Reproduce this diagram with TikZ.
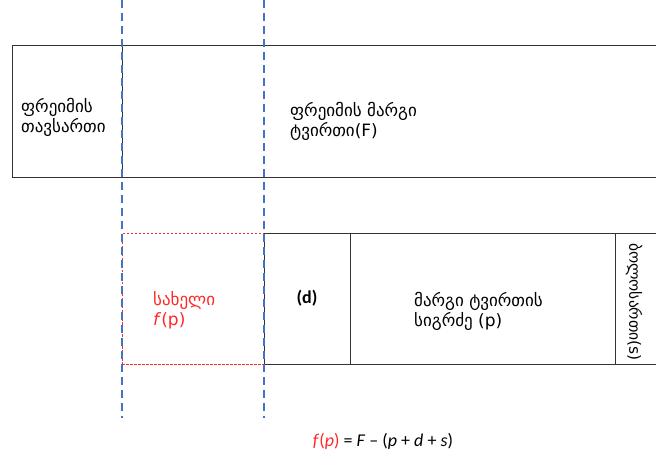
\documentclass[tikz,border=0pt]{standalone}
\usepackage{fontspec}
\setmainfont{DejaVu Sans}
\newfontfamily\calfont{Carlito}
\usetikzlibrary{positioning}
\definecolor{guideblue}{RGB}{68,114,196}
\definecolor{namered}{RGB}{255,40,40}

\begin{document}
\begin{tikzpicture}[x=1pt, y=-1pt,
  cell/.style    = {draw=black!80, line width=0.8pt, inner sep=0pt, outer sep=0pt,
                    anchor=north west, minimum height=131pt},
  namebox/.style = {cell, draw=namered, dash pattern=on 2.5pt off 1.5pt},
  guide/.style   = {draw=guideblue, line width=1.6pt, dash pattern=on 8pt off 5pt},
  txt/.style     = {font=\fontsize{17}{20}\selectfont, align=left, anchor=west, inner sep=0pt},
  lat/.style     = {font=\calfont\fontsize{18}{20}\selectfont, inner sep=0pt},
]
\useasboundingbox (0,0) rectangle (656,454);

% ---- frame (top row) --------------------------------------------------------
\node[cell, minimum width=110pt, minimum height=132pt] (hdr) at (12,45) {};
\node[cell, minimum width=545pt, minimum height=132pt] (pay) at (hdr.north east) {};
\node[txt] (hdrtxt) at (21,117) {ფრეიმის\\თავსართი};
\node[txt] (paytxt) at (290,121) {ფრეიმის მარგი\\ტვირთი(F)};

% ---- payload fields (bottom row) --------------------------------------------
\node[namebox, minimum width=142pt] (name) at (122,233) {};
\node[cell, minimum width=86pt] (dfld) at (name.north east) {};
\node[cell, minimum width=265pt] (plen) at (dfld.north east) {};
\node[cell, minimum width=50pt] (sfld) at (plen.north east) {};
\node[txt, text=namered] (nametxt) at (153,310) {სახელი\\\textit{f}(p)};
\node[lat, font=\calfont\bfseries\fontsize{18}{20}\selectfont] (dtxt) at (dfld.center) {(d)};
\node[txt] (plentxt) at (414,311) {მარგი ტვირთის\\სიგრძე (p)};
\node[txt, font=\fontsize{15.5}{18}\selectfont, anchor=center, rotate=-90] (stxt)
  at (634,302) {ბოლოსართი(s)};

% ---- alignment guides -------------------------------------------------------
\coordinate (gl) at (122,0);
\coordinate (gr) at (264,0);
\draw[guide] (gl) -- ++(0,418);
\draw[guide] (gr) -- ++(0,418);

% ---- formula ----------------------------------------------------------------
\node[lat] (formula) at (383,441)
  {{\color{namered}\textit{f}(\textit{p})} = \textit{F} – (\textit{p} + \textit{d} + \textit{s})};

\end{tikzpicture}
\end{document}
